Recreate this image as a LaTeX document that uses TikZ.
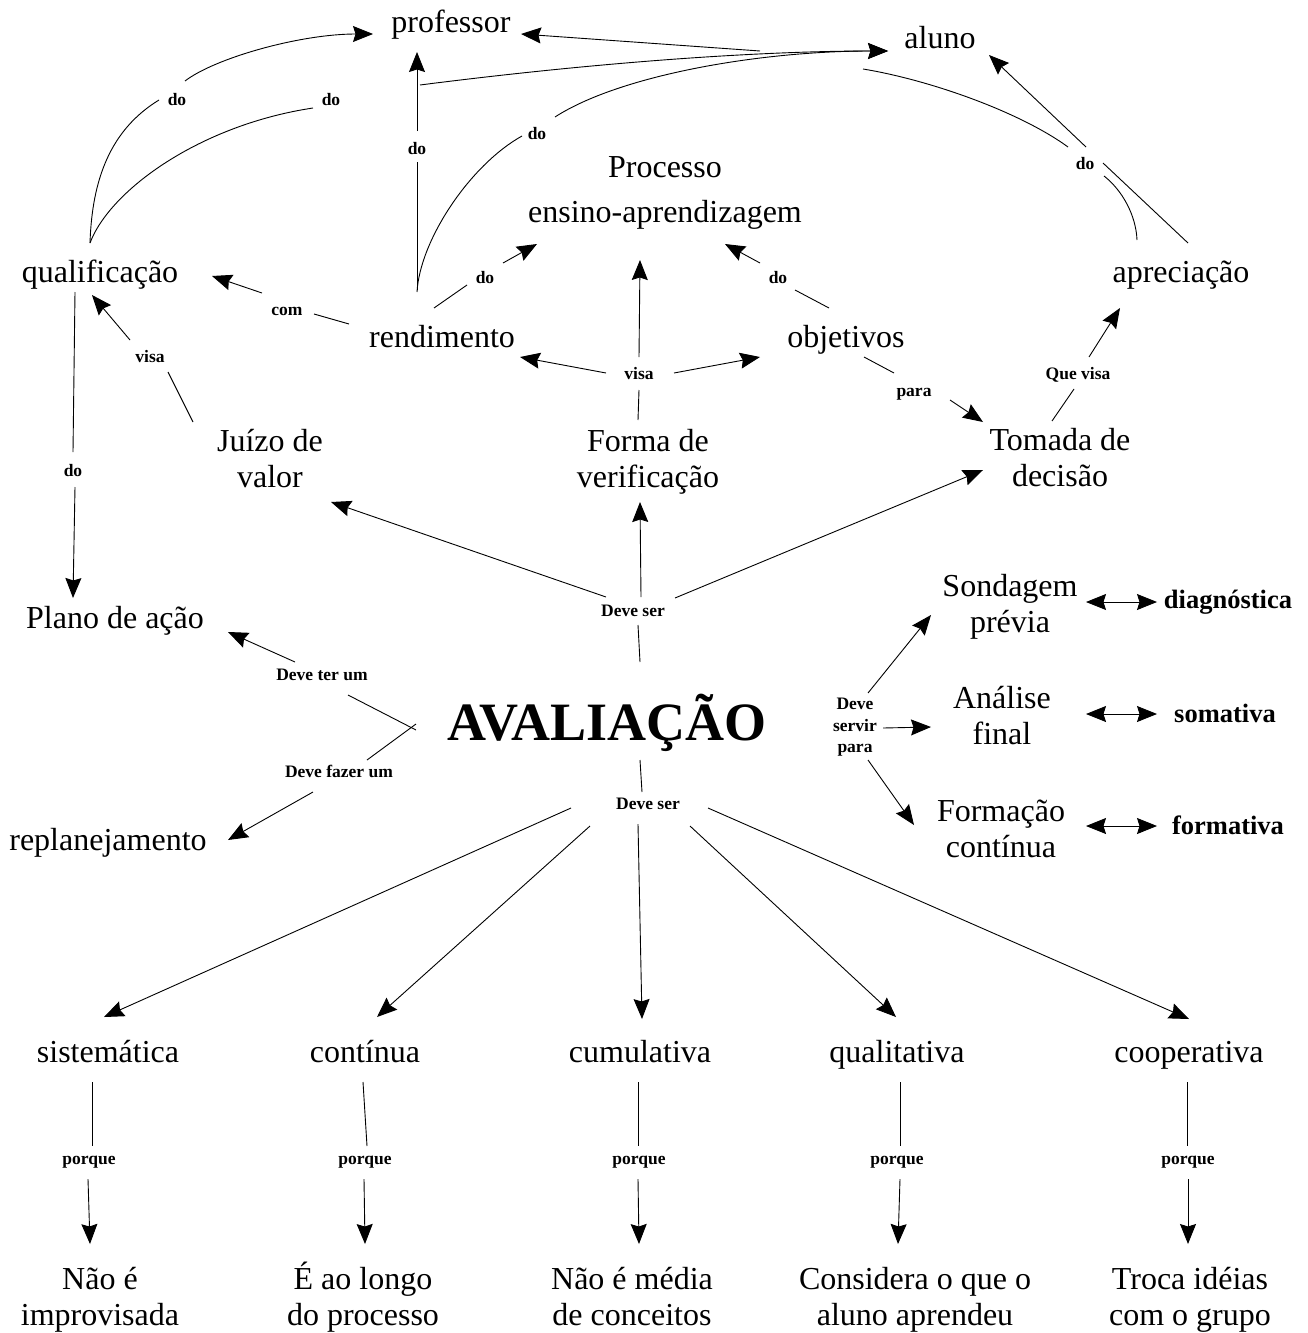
\documentclass[tikz,border=0pt]{standalone}
\usepackage{fontspec}
\setmainfont{Liberation Serif}
\usetikzlibrary{arrows.meta}
\begin{document}
\begin{tikzpicture}[x=1pt,y=-1pt,
  cpt/.style={font=\fontsize{32}{36.5}\selectfont, align=center, anchor=north, inner sep=0pt, yshift=25.55pt},
  lbl/.style={font=\bfseries\fontsize{17.5}{21}\selectfont, inner sep=0pt, text height=12pt, text depth=0pt},
  lbltri/.style={font=\bfseries\fontsize{17.5}{21.5}\selectfont, align=center, anchor=north, inner sep=0pt, yshift=15.05pt},
  kind/.style={font=\bfseries\fontsize{26.5}{30}\selectfont, anchor=base, inner sep=0pt},
  con/.style={line width=0.9pt},
  tipa/.tip={Stealth[length=20pt,width=16pt,inset=2.5pt]},
  arr/.style={con, -tipa},
  dbl/.style={con, tipa-tipa}
]
\useasboundingbox (0,0) rectangle (1307,1333);
\fill[white] (0,0) rectangle (1307,1333);

% ---------------- concepts ----------------
\node[cpt] (prof) at (451,32) {\strut professor};
\node[cpt] (aluno) at (940,48) {\strut aluno};
\node[cpt] (proc) at (665,177) {\strut Processo\\[8.5pt]\strut ensino-aprendizagem};
\node[cpt] (qual) at (100,282) {\strut qualificação};
\node[cpt] (apre) at (1181,282) {\strut apreciação};
\node[cpt] (rend) at (442,347) {\strut rendimento};
\node[cpt] (obj) at (846,347) {\strut objetivos};
\node[cpt] (juizo) at (270,451) {\strut Juízo de\\\strut valor};
\node[cpt] (forma) at (648,451) {\strut Forma de\\\strut verificação};
\node[cpt] (tomada) at (1060,450) {\strut Tomada de\\\strut decisão};
\node[cpt] (plano) at (115,628) {\strut Plano de ação};
\node[font=\bfseries\fontsize{54}{60}\selectfont, anchor=base, inner sep=0pt] (aval) at (607,740) {AVALIAÇÃO};
\node[cpt] (replan) at (108,850) {\strut replanejamento};
\node[cpt] (sond) at (1010,596) {\strut Sondagem\\\strut prévia};
\node[cpt] (anal) at (1002,708) {\strut Análise\\\strut final};
\node[cpt] (form) at (1001,821) {\strut Formação\\\strut contínua};
\node[kind] (diag) at (1228,608) {diagnóstica};
\node[kind] (soma) at (1225,722) {somativa};
\node[kind] (formt) at (1228,834) {formativa};
\node[cpt] (sist) at (108,1062) {\strut sistemática};
\node[cpt] (cont) at (365,1062) {\strut contínua};
\node[cpt] (cumul) at (640,1062) {\strut cumulativa};
\node[cpt] (qualit) at (897,1062) {\strut qualitativa};
\node[cpt] (coop) at (1189,1062) {\strut cooperativa};
\node[cpt] (s1) at (100,1289) {\strut Não é\\\strut improvisada};
\node[cpt] (s2) at (363,1289) {\strut\smash{É} ao longo\\\strut do processo};
\node[cpt] (s3) at (632,1289) {\strut Não é média\\\strut de conceitos};
\node[cpt] (s4) at (915,1289) {\strut Considera o que o\\\strut aluno aprendeu};
\node[cpt] (s5) at (1190,1289) {\strut Troca idéias\\\strut com o grupo};

% ---------------- linking labels ----------------
\node[lbl] (dA) at (177,99) {do};
\node[lbl] (dB) at (331,99) {do};
\node[lbl] (dC) at (417,148) {do};
\node[lbl] (dD) at (537,133) {do};
\node[lbl] (dE) at (1085,163) {do};
\node[lbl] (dF) at (485,277) {do};
\node[lbl] (dG) at (778,277) {do};
\node[lbl] (com) at (287,309) {com};
\node[lbl] (visaA) at (150,356) {visa};
\node[lbl] (visaB) at (639,373) {visa};
\node[lbl] (para) at (914,390) {para};
\node[lbl] (quev) at (1078,373) {Que visa};
\node[lbl] (dH) at (73,470) {do};
\node[lbl] (dsA) at (633,610) {Deve ser};
\node[lbl] (dter) at (322,674) {Deve ter um};
\node[lbl] (dfaz) at (339,771) {Deve fazer um};
\node[lbltri] (dserv) at (855,713) {Deve\\servir\\para};
\node[lbl] (dsB) at (648,803) {Deve ser};
\node[lbl] (pq1) at (89,1158) {porque};
\node[lbl] (pq2) at (365,1158) {porque};
\node[lbl] (pq3) at (639,1158) {porque};
\node[lbl] (pq4) at (897,1158) {porque};
\node[lbl] (pq5) at (1188,1158) {porque};

% ---------------- connector end points ----------------
\coordinate (qT) at (90,243);
\coordinate (dAi) at (159,100);   \coordinate (dAo) at (185,81);
\coordinate (dBi) at (313,108);
\coordinate (profW) at (373,34);  \coordinate (profS) at (417,52);  \coordinate (profE) at (521,34);
\coordinate (rTa) at (417,290);   \coordinate (dCi) at (417,162);   \coordinate (dCo) at (417,131);
\coordinate (rTb) at (417,292);   \coordinate (dDi) at (522,136);   \coordinate (dDo) at (555,117);
\coordinate (jA) at (420,85);     \coordinate (jB) at (760,51);
\coordinate (aluW) at (888,51);   \coordinate (aluS) at (989,55);
\coordinate (apTa) at (1137,240); \coordinate (apTb) at (1188,243);
\coordinate (dEia) at (1104,176); \coordinate (dEib) at (1103,163);
\coordinate (dEoa) at (1086,147); \coordinate (dEob) at (1068,147);
\coordinate (kA) at (863,69);
\coordinate (rW) at (349,324);    \coordinate (comi) at (314,314);  \coordinate (como) at (262,293);
\coordinate (qE) at (212,276);
\coordinate (rNE) at (434,308);   \coordinate (dFi) at (467,285);   \coordinate (dFo) at (503,263);
\coordinate (procSW) at (537,244);
\coordinate (oNW) at (829,308);   \coordinate (dGi) at (795,290);   \coordinate (dGo) at (760,263);
\coordinate (procSE) at (725,244);
\coordinate (fN) at (638,420);    \coordinate (vBi) at (639,390);
\coordinate (vBu) at (639,357);   \coordinate (procS) at (640,260);
\coordinate (vBl) at (606,373);   \coordinate (rE) at (520,357);
\coordinate (vBr) at (674,373);   \coordinate (oW) at (760,357);
\coordinate (oSE) at (864,357);   \coordinate (pai) at (894,373);   \coordinate (pao) at (950,400);
\coordinate (tNW) at (983,422);
\coordinate (jN) at (193,422);    \coordinate (vAi) at (168,372);   \coordinate (vAo) at (130,340);
\coordinate (qS) at (92,295);
\coordinate (tN) at (1052,421);   \coordinate (qvi) at (1074,389);  \coordinate (qvo) at (1089,357);
\coordinate (apS) at (1120,308);
\coordinate (qB) at (75,292);     \coordinate (dHi) at (73,452);    \coordinate (dHo) at (75,487);
\coordinate (plN) at (73,598);
\coordinate (avN) at (640,662);   \coordinate (dsAi) at (638,625);
\coordinate (dsAl) at (606,597);  \coordinate (jS) at (331,502);
\coordinate (dsAm) at (641,597);  \coordinate (fS) at (640,502);
\coordinate (dsAr) at (675,598);  \coordinate (tSW) at (983,470);
\coordinate (avWa) at (416,730);  \coordinate (avWb) at (416,724);
\coordinate (dteri) at (348,695); \coordinate (dtero) at (295,662); \coordinate (plE) at (228,632);
\coordinate (dfazi) at (367,760); \coordinate (dfazo) at (313,792); \coordinate (reE) at (228,840);
\coordinate (dsvA) at (868,693);  \coordinate (soW) at (931,615);
\coordinate (dsvB) at (883,728);  \coordinate (anW) at (931,727);
\coordinate (dsvC) at (868,760);  \coordinate (foW) at (914,825);
\coordinate (soE) at (1086,602);  \coordinate (diW) at (1157,602);
\coordinate (anE) at (1086,714);  \coordinate (smW) at (1157,714);
\coordinate (foE) at (1086,826);  \coordinate (ftW) at (1157,826);
\coordinate (avS) at (640,760);   \coordinate (dsBi) at (642,792);
\coordinate (dsB1) at (571,808);  \coordinate (siN) at (104,1017);
\coordinate (dsB2) at (590,826);  \coordinate (coN) at (377,1017);
\coordinate (dsB3) at (638,824);  \coordinate (cuN) at (642,1019);
\coordinate (dsB4) at (690,826);  \coordinate (quN) at (896,1017);
\coordinate (dsB5) at (708,808);  \coordinate (cpN) at (1189,1019);
\coordinate (siS) at (92,1082);   \coordinate (pq1i) at (92,1146);  \coordinate (pq1o) at (88,1179);  \coordinate (s1N) at (90,1244);
\coordinate (coS) at (363,1082);  \coordinate (pq2i) at (367,1146); \coordinate (pq2o) at (364,1179); \coordinate (s2N) at (365,1244);
\coordinate (cuS) at (638,1082);  \coordinate (pq3i) at (638,1146); \coordinate (pq3o) at (638,1179); \coordinate (s3N) at (639,1244);
\coordinate (quS) at (900,1082);  \coordinate (pq4i) at (900,1146); \coordinate (pq4o) at (900,1179); \coordinate (s4N) at (898,1244);
\coordinate (cpS) at (1187,1082); \coordinate (pq5i) at (1187,1146);\coordinate (pq5o) at (1188,1179);\coordinate (s5N) at (1188,1244);

% ---------------- connectors ----------------
% qualificacao do professor / do aluno
\draw[con] (qT) .. controls (92,180) and (110,130) .. (dAi);
\draw[arr] (dAo) .. controls (215,58) and (300,34) .. (profW);
\draw[con] (qT) .. controls (110,190) and (200,125) .. (dBi);
% rendimento do professor
\draw[con] (rTa) -- (dCi);
\draw[arr] (dCo) -- (profS);
% lines to aluno
\draw[arr] (jA) .. controls (600,62) and (760,51) .. (aluW);
\draw[con] (rTb) .. controls (420,240) and (470,165) .. (dDi);
\draw[arr] (dDo) .. controls (620,75) and (760,51) .. (aluW);
\draw[arr] (jB) -- (profE);
% apreciacao do aluno
\draw[con] (apTa) .. controls (1136,215) and (1122,190) .. (dEia);
\draw[con] (apTb) -- (dEib);
\draw[arr] (dEoa) -- (aluS);
\draw[con] (dEob) .. controls (1020,112) and (930,80) .. (kA);
% rendimento com qualificacao
\draw[con] (rW) -- (comi);
\draw[arr] (como) -- (qE);
% do processo
\draw[con] (rNE) -- (dFi);
\draw[arr] (dFo) -- (procSW);
\draw[con] (oNW) -- (dGi);
\draw[arr] (dGo) -- (procSE);
% forma de verificacao visa
\draw[con] (fN) -- (vBi);
\draw[arr] (vBu) -- (procS);
\draw[arr] (vBl) -- (rE);
\draw[arr] (vBr) -- (oW);
% objetivos para tomada
\draw[con] (oSE) -- (pai);
\draw[arr] (pao) -- (tNW);
% juizo visa qualificacao
\draw[con] (jN) -- (vAi);
\draw[arr] (vAo) -- (qS);
% tomada que visa apreciacao
\draw[con] (tN) -- (qvi);
\draw[arr] (qvo) -- (apS);
% qualificacao do plano
\draw[con] (qB) -- (dHi);
\draw[arr] (dHo) -- (plN);
% avaliacao deve ser (upper)
\draw[con] (avN) -- (dsAi);
\draw[arr] (dsAl) -- (jS);
\draw[arr] (dsAm) -- (fS);
\draw[arr] (dsAr) -- (tSW);
% deve ter um / deve fazer um
\draw[con] (avWa) -- (dteri);
\draw[arr] (dtero) -- (plE);
\draw[con] (avWb) -- (dfazi);
\draw[arr] (dfazo) -- (reE);
% deve servir para
\draw[arr] (dsvA) -- (soW);
\draw[arr] (dsvB) -- (anW);
\draw[arr] (dsvC) -- (foW);
% double arrows
\draw[dbl] (soE) -- (diW);
\draw[dbl] (anE) -- (smW);
\draw[dbl] (foE) -- (ftW);
% avaliacao deve ser (lower)
\draw[con] (avS) -- (dsBi);
\draw[arr] (dsB1) -- (siN);
\draw[arr] (dsB2) -- (coN);
\draw[arr] (dsB3) -- (cuN);
\draw[arr] (dsB4) -- (quN);
\draw[arr] (dsB5) -- (cpN);
% porque
\draw[con] (siS) -- (pq1i);  \draw[arr] (pq1o) -- (s1N);
\draw[con] (coS) -- (pq2i);  \draw[arr] (pq2o) -- (s2N);
\draw[con] (cuS) -- (pq3i);  \draw[arr] (pq3o) -- (s3N);
\draw[con] (quS) -- (pq4i);  \draw[arr] (pq4o) -- (s4N);
\draw[con] (cpS) -- (pq5i);  \draw[arr] (pq5o) -- (s5N);
\end{tikzpicture}
\end{document}
